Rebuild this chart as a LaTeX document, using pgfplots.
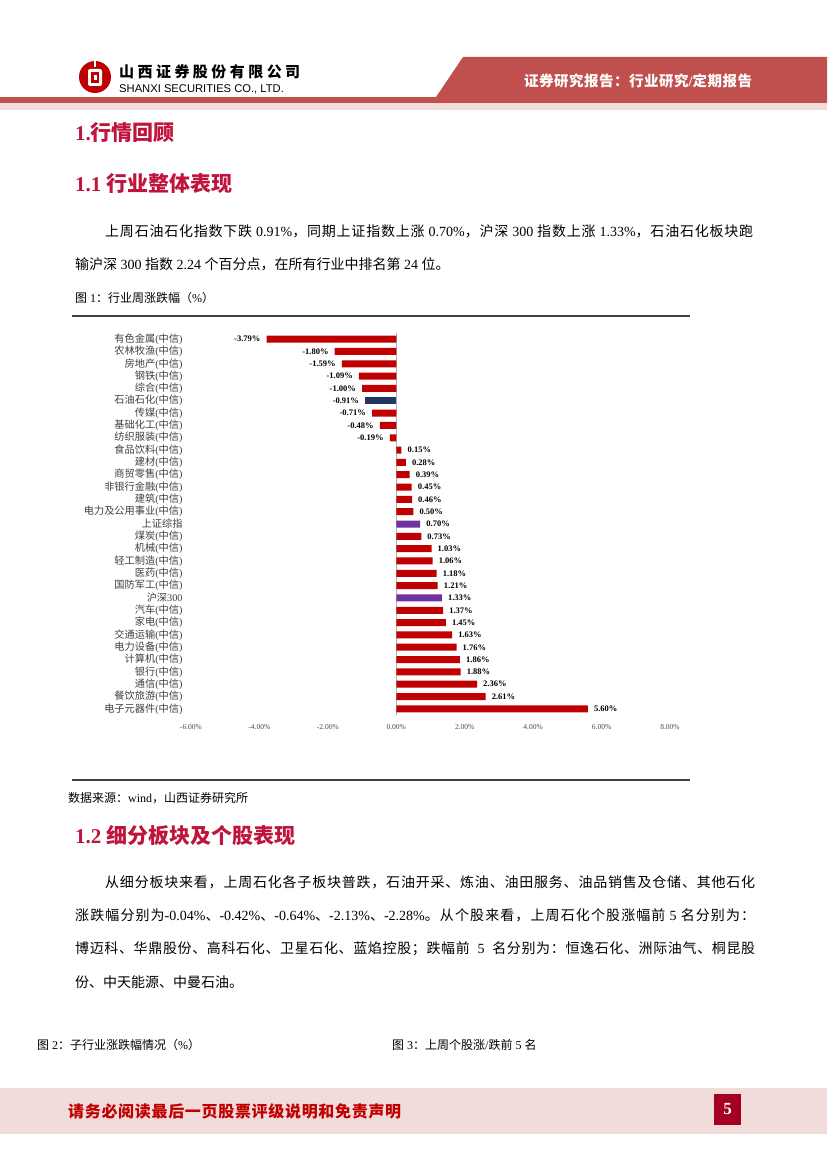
\documentclass[border=0pt]{standalone}
\usepackage{pgfplots}
\pgfplotsset{compat=1.18}
\usepackage{fontspec}
\setmainfont{Liberation Serif}
\newfontfamily\cjk{Noto Sans CJK SC}
\newfontfamily\sans{Liberation Sans}
\XeTeXinterchartokenstate=1
\chardef\CJKcls=7
\newcount\cc
\cc="3000 \loop\XeTeXcharclass\cc=\CJKcls\relax\ifnum\cc<"303F \advance\cc by 1 \repeat
\cc="4E00 \loop\XeTeXcharclass\cc=\CJKcls\relax\ifnum\cc<"9FFF \advance\cc by 1 \repeat
\cc="FF00 \loop\XeTeXcharclass\cc=\CJKcls\relax\ifnum\cc<"FFEF \advance\cc by 1 \repeat
\XeTeXinterchartoks 0 \CJKcls = {\begingroup\cjk}
\XeTeXinterchartoks 4095 \CJKcls = {\begingroup\cjk}
\XeTeXinterchartoks \CJKcls 0 = {\endgroup}
\XeTeXinterchartoks \CJKcls 4095 = {\endgroup}
\XeTeXinterchartoks \CJKcls \CJKcls = {\hskip0pt plus 3pt\relax}
\definecolor{hdrred}{RGB}{192,80,77}
\definecolor{pinkbg}{RGB}{242,220,219}
\definecolor{headc}{RGB}{192,20,60}
\definecolor{barred}{RGB}{192,0,0}
\definecolor{barnavy}{RGB}{31,56,100}
\definecolor{barpurple}{RGB}{112,48,160}
\definecolor{pagebox}{RGB}{165,0,33}
\definecolor{foottxt}{RGB}{192,0,0}
\newcommand{\fs}[1]{\fontsize{#1}{#1}\selectfont}
\begin{document}
\begin{tikzpicture}[x=1pt,y=1pt]
\fill[white] (0,0) rectangle (827,-1169);
\path[use as bounding box] (0,0) rectangle (827,-1169);
% header
\fill[pinkbg] (0,-103) rectangle (827,-110);
\fill[hdrred] (0,-97) rectangle (827,-103);
\fill[hdrred] (432,-103) -- (463,-57) -- (827,-57) -- (827,-103) -- cycle;
\fill[barred] (95,-77) circle (16);
\fill[white, rounded corners=2pt] (88,-69) rectangle (102,-86);
\fill[barred] (91,-72) rectangle (99,-83);
\fill[white] (93.5,-75) rectangle (96.5,-80);
\fill[white] (94,-61) rectangle (96,-67);
\node[anchor=west, inner sep=0pt] at (119,-72) {\fs{15}\bfseries\makebox[181pt][s]{山西证券股份有限公司}};
\node[anchor=west, inner sep=0pt] at (119,-89) {\sans\fs{11.2}SHANXI SECURITIES CO., LTD.};
\node[anchor=west, inner sep=0pt, text=white] at (524,-81) {\fs{14.5}\bfseries\makebox[228pt][s]{证券研究报告：行业研究/定期报告}};
% headings
\node[anchor=west, inner sep=0pt, text=headc] at (75,-133) {\fs{21}\bfseries 1.行情回顾};
\node[anchor=west, inner sep=0pt, text=headc] at (75,-184) {\fs{21}\bfseries 1.1 行业整体表现};
\node[anchor=west, inner sep=0pt] at (105,-231) {\fs{14}\makebox[648pt][s]{上周石油石化指数下跌 0.91\%，同期上证指数上涨 0.70\%，沪深 300 指数上涨 1.33\%，石油石化板块跑}};
\node[anchor=west, inner sep=0pt] at (75,-264) {\fs{14}输沪深 300 指数 2.24 个百分点，在所有行业中排名第 24 位。};
\node[anchor=west, inner sep=0pt] at (75,-298) {\fs{12}图 1：行业周涨跌幅（\%）};
\draw[line width=1.3pt, black!75] (72,-316) -- (690,-316);
\draw[line width=1.3pt, black!75] (72,-780) -- (690,-780);
\node[anchor=west, inner sep=0pt] at (68,-798) {\fs{12}数据来源：wind，山西证券研究所};
\node[anchor=west, inner sep=0pt, text=headc] at (75,-836) {\fs{21}\bfseries 1.2 细分板块及个股表现};
\node[anchor=west, inner sep=0pt] at (105,-882) {\fs{14}\makebox[650pt][s]{从细分板块来看，上周石化各子板块普跌，石油开采、炼油、油田服务、油品销售及仓储、其他石化}};
\node[anchor=west, inner sep=0pt] at (75,-915) {\fs{14}\makebox[680pt][s]{涨跌幅分别为-0.04\%、-0.42\%、-0.64\%、-2.13\%、-2.28\%。从个股来看，上周石化个股涨幅前 5 名分别为：}};
\node[anchor=west, inner sep=0pt] at (75,-949) {\fs{14}\makebox[680pt][s]{博迈科、华鼎股份、高科石化、卫星石化、蓝焰控股；跌幅前 \ 5 \ 名分别为：恒逸石化、洲际油气、桐昆股}};
\node[anchor=west, inner sep=0pt] at (75,-982) {\fs{14}份、中天能源、中曼石油。};
\node[anchor=west, inner sep=0pt] at (37,-1045) {\fs{12}图 2：子行业涨跌幅情况（\%）};
\node[anchor=west, inner sep=0pt] at (392,-1045) {\fs{12}图 3：上周个股涨/跌前 5 名};
% footer
\fill[pinkbg] (0,-1088) rectangle (827,-1134);
\node[anchor=west, inner sep=0pt, text=foottxt] at (68,-1111) {\fs{16}\bfseries\makebox[333pt][s]{请务必阅读最后一页股票评级说明和免责声明}};
\fill[pagebox] (714,-1094) rectangle (741,-1125);
\node[text=white, inner sep=0pt] at (727.5,-1109.5) {\fs{17}\bfseries 5};
% chart
\begin{axis}[
  at={(191pt,-715pt)}, anchor=south west,
  scale only axis, width=479pt, height=382pt,
  xbar, bar shift=0pt, bar width=7pt,
  xmin=-6, xmax=8, ymin=-0.5, ymax=30.5, y dir=reverse,
  enlargelimits=false, clip=false,
  axis line style={draw=none}, tick style={draw=none}, major tick length=0pt,
  xtick={-6,-4,-2,0,2,4,6,8},
  xticklabels={-6.00\%,-4.00\%,-2.00\%,0.00\%,2.00\%,4.00\%,6.00\%,8.00\%},
  xticklabel style={font=\fs{7.5}, text=black!70, yshift=-6pt},
  ytick={0,...,30},
  yticklabels={有色金属(中信),农林牧渔(中信),房地产(中信),钢铁(中信),综合(中信),石油石化(中信),传媒(中信),基础化工(中信),纺织服装(中信),食品饮料(中信),建材(中信),商贸零售(中信),非银行金融(中信),建筑(中信),电力及公用事业(中信),上证综指,煤炭(中信),机械(中信),轻工制造(中信),医药(中信),国防军工(中信),沪深300,汽车(中信),家电(中信),交通运输(中信),电力设备(中信),计算机(中信),银行(中信),通信(中信),餐饮旅游(中信),电子元器件(中信)},
  yticklabel style={font=\fs{10.2}, text=black!75, xshift=-5pt},
  extra x ticks={0}, extra x tick labels={},
  extra x tick style={xmajorgrids=true, major grid style={draw=black!30, line width=0.8pt}},
  point meta=x,
  nodes near coords={\pgfmathprintnumber[fixed,fixed zerofill,precision=2,assume math mode=true]{\pgfplotspointmeta}\%},
  nodes near coords align={horizontal},
  every node near coord/.append style={font=\bfseries\fs{8.5}, text=black, inner xsep=6pt, inner ysep=0pt},
]
\addplot[draw=none, fill=barred] coordinates {(-3.79,0) (-1.80,1) (-1.59,2) (-1.09,3) (-1.00,4) (-0.71,6) (-0.48,7) (-0.19,8) (0.15,9) (0.28,10) (0.39,11) (0.45,12) (0.46,13) (0.50,14) (0.73,16) (1.03,17) (1.06,18) (1.18,19) (1.21,20) (1.37,22) (1.45,23) (1.63,24) (1.76,25) (1.86,26) (1.88,27) (2.36,28) (2.61,29) (5.60,30)};
\addplot[draw=none, fill=barnavy] coordinates {(-0.91,5)};
\addplot[draw=none, fill=barpurple] coordinates {(0.70,15) (1.33,21)};
\end{axis}
\end{tikzpicture}
\end{document}
